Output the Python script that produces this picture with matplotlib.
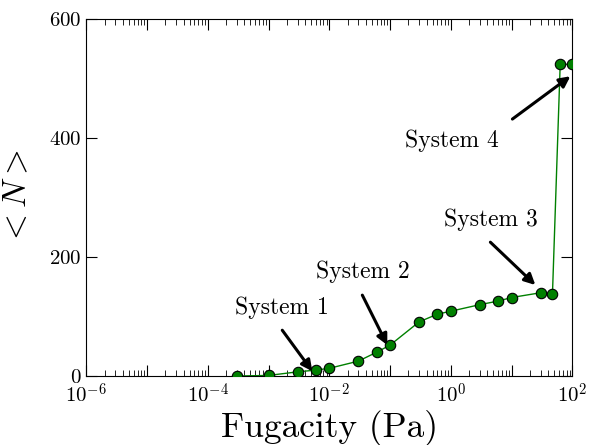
import numpy as np
import matplotlib
matplotlib.use("Agg")
import matplotlib.pyplot as plt
from matplotlib.ticker import LogLocator, NullFormatter

plt.rcParams["font.family"] = "serif"
plt.rcParams["font.serif"] = ["cmr10", "DejaVu Serif"]
plt.rcParams["mathtext.fontset"] = "cm"
plt.rcParams["axes.formatter.use_mathtext"] = True
plt.rcParams["xtick.direction"] = "in"
plt.rcParams["ytick.direction"] = "in"
plt.rcParams["xtick.top"] = True
plt.rcParams["ytick.right"] = True
plt.rcParams["xtick.major.size"] = 8.0
plt.rcParams["xtick.minor.size"] = 4.0
plt.rcParams["ytick.major.size"] = 8.0

# fugacity (Pa) and average loading <N>
fugacity = [3e-4, 1e-3, 3e-3, 6e-3, 1e-2, 3e-2, 6e-2, 0.1, 0.3, 0.6, 1.0,
            3.0, 6.0, 10.0, 30.0, 47.0, 63.0, 100.0]
loading = [0, 1, 7, 10, 13, 25, 40, 52, 91, 104, 109,
           120, 126, 132, 140, 138, 524, 524]

labels = ["System 1", "System 2", "System 3", "System 4"]
text_xy = [(1.68e-3, 104), (3.56e-2, 165), (4.47, 252), (1.02, 385)]
arrow_from = [(1.68e-3, 77), (3.49e-2, 136), (4.47, 225), (10.3, 432)]
arrow_to = [(5.25e-3, 8), (9.0e-2, 52), (24.6, 153), (92.7, 504)]

decades = np.arange(-6, 3)
xticks = 10.0 ** decades
xticklabels = [r"$10^{%d}$" % d if d % 2 == 0 else "" for d in decades]

fig = plt.figure(figsize=(5.95, 4.45), dpi=100)
ax = fig.add_axes([0.145, 0.155, 0.817, 0.802])

ax.plot(fugacity, loading, "-", color="green", lw=1.0, zorder=2)
ax.plot(fugacity, loading, "o", color="green", mec="black", mew=0.8,
        ms=7.5, zorder=3)

ax.set_xscale("log")
ax.set_xlim(1e-6, 1e2)
ax.set_ylim(0, 600)
ax.set_xticks(xticks)
ax.set_xticklabels(xticklabels)
ax.xaxis.set_minor_locator(LogLocator(base=10, subs=np.arange(2, 10), numticks=100))
ax.xaxis.set_minor_formatter(NullFormatter())
ax.set_yticks([0, 200, 400, 600])
ax.tick_params(labelsize=15)
ax.tick_params(axis="x", which="major", pad=5)

for lab, txy, a0, a1 in zip(labels, text_xy, arrow_from, arrow_to):
    ax.text(txy[0], txy[1], lab, fontsize=17, ha="center", va="baseline")
    ax.annotate("", xy=a1, xytext=a0,
                arrowprops=dict(arrowstyle="-|>", color="black", lw=2.2,
                                mutation_scale=16, shrinkA=0, shrinkB=0))

ax.set_xlabel("Fugacity (Pa)", fontsize=25.5, labelpad=2)
ax.set_ylabel(r"$<N>$", fontsize=24)
ax.yaxis.set_label_coords(-0.111, 0.5)

fig.savefig("out.png", dpi=100)
